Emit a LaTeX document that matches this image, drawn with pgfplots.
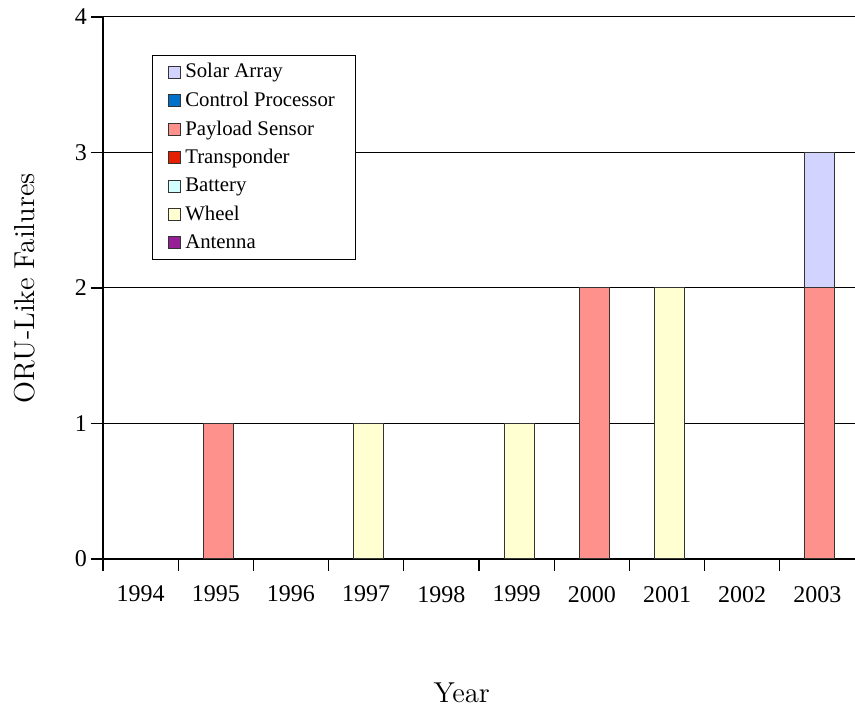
\documentclass[border=0pt]{standalone}
\usepackage{fontspec}
\usepackage{pgfplots}
\pgfplotsset{compat=1.18}
\newfontfamily\tnr{Liberation Serif}

\definecolor{csolar}{RGB}{210,212,255}
\definecolor{cctrl}{RGB}{0,112,200}
\definecolor{cpay}{RGB}{255,145,140}
\definecolor{ctrans}{RGB}{228,32,0}
\definecolor{cbatt}{RGB}{210,255,255}
\definecolor{cwheel}{RGB}{255,255,210}
\definecolor{cant}{RGB}{150,30,150}

\begin{document}
\begin{tikzpicture}
  \begin{axis}[
    ybar stacked,
    scale only axis,
    width=376pt,
    height=271pt,
    bar width=15pt,
    bar shift=1.2pt,
    xmin=-0.5, xmax=9.5,
    ymin=0, ymax=4,
    xtick={0,...,9},
    xticklabels={1994,1995,1996,1997,1998,1999,2000,2001,2002,2003},
    ytick={0,1,2,3,4},
    extra x ticks={-0.5,0.5,...,8.5},
    extra x tick labels={},
    extra x tick style={xtick style={draw=black, line width=0.6pt}},
    major tick length=6pt,
    xtick style={draw=none},
    ytick style={black, line width=0.6pt},
    tick align=outside,
    axis x line*=bottom,
    axis y line*=left,
    axis line style={black, line width=0.6pt},
    ymajorgrids,
    grid style={black, line width=0.5pt},
    /pgf/number format/assume math mode=true,
    ticklabel style={font=\tnr\fontsize{12}{14}\selectfont},
    xticklabel style={yshift=-4pt},
    yticklabel style={xshift=1.5pt},
    ylabel={ORU-Like Failures},
    xlabel={Year},
    label style={font=\Large},
    ylabel style={at={(axis description cs:-0.104,0.5)}, anchor=center},
    xlabel style={at={(axis description cs:0.477,-0.247)}, anchor=center},
    every axis plot/.append style={draw=black!80, line width=0.5pt},
    legend cell align=left,
    reverse legend,
    legend style={at={(rel axis cs:0.065,0.93)}, anchor=north west,
      draw=black, fill=white, font=\tnr\fontsize{10.4}{12}\selectfont,
      row sep=1.6pt, inner xsep=8pt, inner ysep=2pt,
      /tikz/every even column/.append style={column sep=0pt}},
    legend image code/.code={\draw[#1] (0pt,-3pt) rectangle (6pt,3pt);},
  ]
  \addplot[fill=cant] coordinates {(0,0) (1,0) (2,0) (3,0) (4,0) (5,0) (6,0) (7,0) (8,0) (9,0)};
  \addlegendentry{Antenna}
  \addplot[fill=cwheel] coordinates {(0,0) (1,0) (2,0) (3,1) (4,0) (5,1) (6,0) (7,2) (8,0) (9,0)};
  \addlegendentry{Wheel}
  \addplot[fill=cbatt] coordinates {(0,0) (1,0) (2,0) (3,0) (4,0) (5,0) (6,0) (7,0) (8,0) (9,0)};
  \addlegendentry{Battery}
  \addplot[fill=ctrans] coordinates {(0,0) (1,0) (2,0) (3,0) (4,0) (5,0) (6,0) (7,0) (8,0) (9,0)};
  \addlegendentry{Transponder}
  \addplot[fill=cpay] coordinates {(0,0) (1,1) (2,0) (3,0) (4,0) (5,0) (6,2) (7,0) (8,0) (9,2)};
  \addlegendentry{Payload Sensor}
  \addplot[fill=cctrl] coordinates {(0,0) (1,0) (2,0) (3,0) (4,0) (5,0) (6,0) (7,0) (8,0) (9,0)};
  \addlegendentry{Control Processor}
  \addplot[fill=csolar] coordinates {(0,0) (1,0) (2,0) (3,0) (4,0) (5,0) (6,0) (7,0) (8,0) (9,1)};
  \addlegendentry{Solar Array}
  \end{axis}
  \pgfresetboundingbox
  \path ([shift={(-51.5pt,-77pt)}]current axis.south west)
    rectangle ([shift={(0pt,8.5pt)}]current axis.north east);
\end{tikzpicture}
\end{document}
